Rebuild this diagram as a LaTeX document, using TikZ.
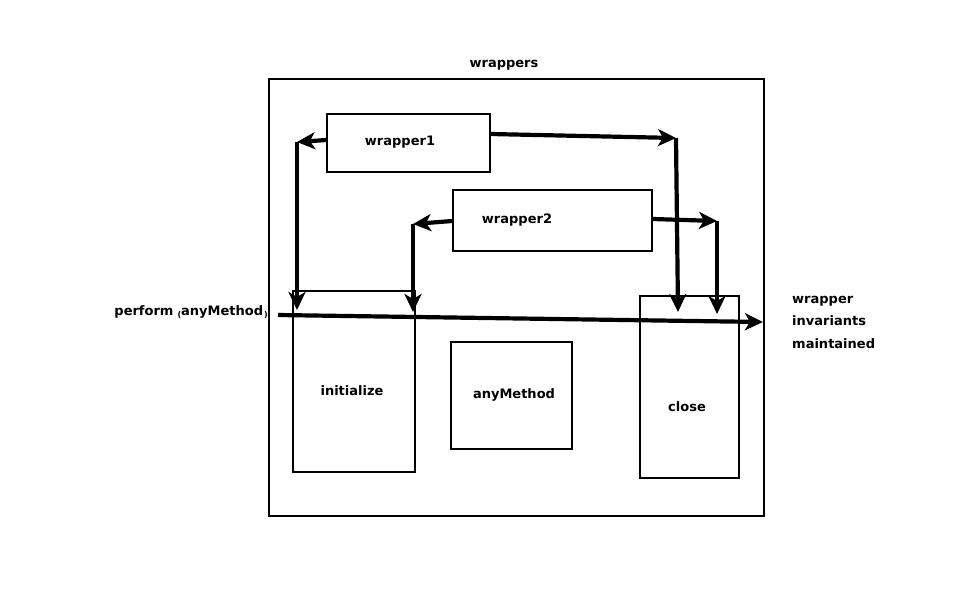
\documentclass[tikz,border=0pt]{standalone}
\usepackage{fontspec}
\setmainfont{DejaVu Sans}
\usetikzlibrary{arrows.meta}
\begin{document}
\begin{tikzpicture}[x=1pt,y=-1pt,
  box/.style={draw,line width=1.5pt,inner sep=0pt},
  lbl/.style={font=\fontsize{13}{22.5}\selectfont\bfseries,inner sep=0pt},
  flow/.style={line width=4.2pt,-{Stealth[length=18pt,width=17pt,inset=5pt]}}]
\useasboundingbox (0,0) rectangle (965,614);
% frame
\node[box,minimum width=495pt,minimum height=437pt] (frame) at (516.5,297.5) {};
\node[lbl] (title) at (504,65) {wrappers};
% boxes
\node[box,minimum width=163pt,minimum height=58pt] (w1) at (408.5,143) {};
\node[lbl] (w1t) at (400,142) {wrapper1};
\node[box,minimum width=199pt,minimum height=61pt] (w2) at (552.5,220.5) {};
\node[lbl] (w2t) at (517,220) {wrapper2};
\node[box,minimum width=122pt,minimum height=181pt] (init) at (354,381.5) {};
\node[lbl] (initt) at (352,391) {initialize};
\node[box,minimum width=121pt,minimum height=107pt] (any) at (511.5,395.5) {};
\node[lbl] (anyt) at (514,395) {anyMethod};
\node[box,minimum width=99pt,minimum height=182pt] (close) at (689.5,387) {};
\node[lbl] (closet) at (687,407) {close};
% side labels
\node[lbl,anchor=east] (perf) at (268,312) {perform\hspace{4pt}{\raisebox{-2pt}{\footnotesize(}}anyMethod\hspace{1pt}{\raisebox{-2pt}{\footnotesize)}}};
\node[lbl,anchor=north west,align=left] (inv) at (792,296) {wrapper\\invariants\\maintained};
% corner coordinates
\coordinate (c1l) at (297,142);
\coordinate (c1r) at (676,138);
\coordinate (c2l) at (413,224);
\coordinate (c2r) at (717,221);
\coordinate (pstart) at (278,315);
\coordinate (pend) at (763,322);
% arrows
\draw[flow] (w1.west |- 0,140) -- (c1l);
\draw[flow] (c1l) -- (297,310);
\draw[flow] (w1.east |- 0,134) -- (c1r);
\draw[flow] (c1r) -- (678,312);
\draw[flow] (w2.west |- 0,221) -- (c2l);
\draw[flow] (c2l) -- (413,312);
\draw[flow] (w2.east |- 0,219) -- (c2r);
\draw[flow] (c2r) -- (717,314);
\draw[flow] (pstart) -- (pend);
\end{tikzpicture}
\end{document}
